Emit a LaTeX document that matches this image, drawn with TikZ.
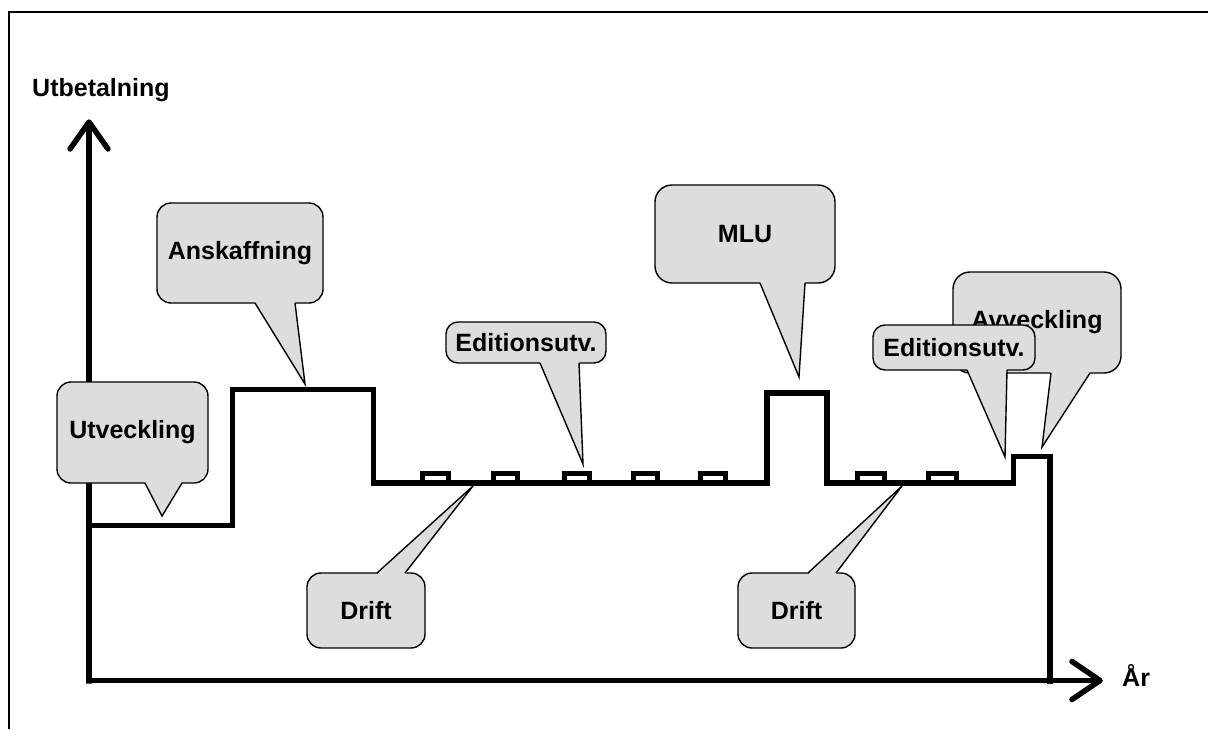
\documentclass[tikz,border=0pt]{standalone}
\usepackage{fontspec}
\setmainfont{Liberation Sans}
\usetikzlibrary{calc}

\definecolor{callgray}{HTML}{DDDDDD}

% pointer of a callout: node, left and right offset of its base from the
% node's west side, and the tip coordinate
\newcommand\ptrsouth[4]{%
  \fill[callgray] ([xshift=#2pt,yshift=1.3pt]#1.south west) -- (#4)
    -- ([xshift=#3pt,yshift=1.3pt]#1.south west) -- cycle;
  \draw[calledge] ([xshift=#2pt]#1.south west) -- (#4)
    -- ([xshift=#3pt]#1.south west);}
\newcommand\ptrnorth[4]{%
  \fill[callgray] ([xshift=#2pt,yshift=-1.3pt]#1.north west) -- (#4)
    -- ([xshift=#3pt,yshift=-1.3pt]#1.north west) -- cycle;
  \draw[calledge] ([xshift=#2pt]#1.north west) -- (#4)
    -- ([xshift=#3pt]#1.north west);}

\begin{document}
\begin{tikzpicture}[x=1pt,y=-1pt,
  labelfont/.style={font=\fontsize{25}{29}\selectfont\bfseries},
  calledge/.style={draw=black,line width=1.4pt},
  callbox/.style={calledge,fill=callgray,rounded corners=14pt,
    outer sep=0pt,inner sep=0pt,labelfont,align=center},
  axisline/.style={line width=5.5pt,line join=miter},
  arrowarm/.style={line width=5.5pt,line cap=round,line join=round},
  stepline/.style={line width=5.5pt,line join=miter},
  bumpline/.style={line width=5pt,line join=miter},
  frameline/.style={line width=2.5pt}]

\useasboundingbox (0,0) rectangle (1208,729);

% frame
\draw[frameline] (9,729) -- (9,12) -- (1208,12);

% axes
\coordinate (origin) at (89,680.5);
\coordinate (ytip) at (89,122);
\coordinate (xtip) at (1100,680.5);
\draw[axisline] (ytip) -- (89,683.5) -- (origin) -- (xtip);
\draw[arrowarm] ([shift={(-19,27)}]ytip) -- (ytip) -- ([shift={(19,27)}]ytip);
\draw[arrowarm] ([shift={(-28,-19)}]xtip) -- (xtip) -- ([shift={(-28,19)}]xtip);

\node[labelfont,anchor=base west,inner sep=0pt] (ylabel) at (32,96) {Utbetalning};
\node[labelfont,anchor=base west,inner sep=0pt] (xlabel) at (1122,686) {År};

% payment profile over the years
\draw[stepline] (92,525.5) -- (232.5,525.5) -- (232.5,389.5) -- (373.5,389.5) -- (373.5,483)
  -- (767,483) -- (767,393) -- (827,393) -- (827,483)
  -- (1013.5,483) -- (1013.5,456.5) -- (1050,456.5) -- (1050,684);
% small yearly edition steps on the running cost
\foreach \a/\b in {422/448.5, 493/517, 564/589, 633/657, 700/725, 857.5/884.5, 928.5/956.5}
  \draw[bumpline] (\a,483) -- (\a,473) -- (\b,473) -- (\b,483);

% callouts
\node[callbox,minimum width=151,minimum height=101] (utv) at (132.5,432.5) {Utveckling};
\coordinate (utvTip) at (162,516);
\ptrsouth{utv}{88}{125}{utvTip}

\node[callbox,minimum width=166,minimum height=100] (ansk) at (240,253) {Anskaffning};
\coordinate (anskTip) at (305,384);
\ptrsouth{ansk}{98}{138}{anskTip}

\node[callbox,minimum width=160,minimum height=41,rounded corners=12pt] (ed1) at (526,342.5) {Editionsutv.};
\coordinate (ed1Tip) at (583,464);
\ptrsouth{ed1}{94}{133}{ed1Tip}

\node[callbox,minimum width=118,minimum height=75] (drift1) at (366,610.5) {Drift};
\coordinate (drift1Tip) at (473,486);
\ptrnorth{drift1}{70}{98}{drift1Tip}

\node[callbox,minimum width=180,minimum height=98,rounded corners=17pt] (mlu) at (745,234) {MLU};
\coordinate (mluTip) at (799,377);
\ptrsouth{mlu}{105}{150}{mluTip}

\node[callbox,minimum width=117,minimum height=75] (drift2) at (796.5,610.5) {Drift};
\coordinate (drift2Tip) at (902,486);
\ptrnorth{drift2}{70}{98}{drift2Tip}

\node[callbox,minimum width=168,minimum height=101,rounded corners=17pt] (avv) at (1037,322.5) {Avveckling};
\coordinate (avvTip) at (1042,447);
\ptrsouth{avv}{98}{137}{avvTip}

\node[callbox,minimum width=162,minimum height=45,rounded corners=12pt] (ed2) at (954,347.5) {Editionsutv.};
\coordinate (ed2Tip) at (1005,457);
\ptrsouth{ed2}{94}{134}{ed2Tip}

\end{tikzpicture}
\end{document}
